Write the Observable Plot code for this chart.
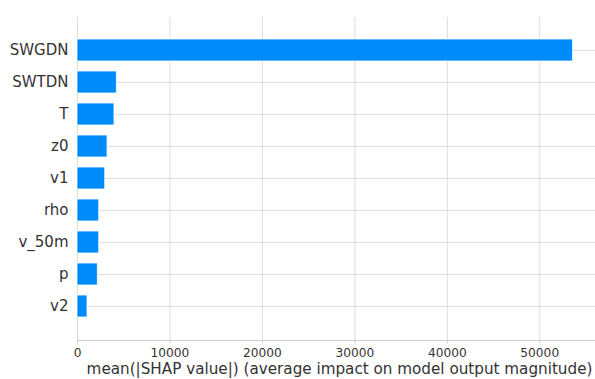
<!DOCTYPE html>
<html><head><meta charset="utf-8">
<script src="https://cdn.jsdelivr.net/npm/d3@7"></script>
<script src="https://cdn.jsdelivr.net/npm/@observablehq/plot@0.6"></script>
<style>body{margin:0;background:#fff} svg{display:block}</style>
</head><body><div id="chart"></div>
<script>
const features = ["SWGDN","SWTDN","T","z0","v1","rho","v_50m","p","v2"];
const meanAbsShap = [53600,4260,4000,3250,3000,2350,2350,2200,1080];
const xTicks = [0,10000,20000,30000,40000,50000];
const xLabel = "mean(|SHAP value|) (average impact on model output magnitude)";
const data = features.map((f,i)=>({feature:f, value:meanAbsShap[i]}));
const textColor = "#333333";
const gridColor = "#dcdcdc";
const chart = Plot.plot({
  width:595, height:379, marginTop:17, marginBottom:39, marginLeft:77, marginRight:0,
  style:{fontFamily:"DejaVu Sans", background:"#fff", color:textColor},
  x:{domain:[0,56030]},
  y:{domain:features, paddingInner:0.3, paddingOuter:0.65},
  marks:[
    Plot.gridX(xTicks, {stroke:gridColor, strokeOpacity:1, strokeWidth:1}),
    Plot.ruleY(features, {stroke:gridColor, strokeWidth:1}),
    Plot.frame({anchor:"bottom", stroke:"#cccccc", strokeWidth:1}),
    Plot.barX(data, {y:"feature", x:"value", fill:"#008bfb", stroke:"#ffffff", strokeOpacity:0.8, strokeWidth:1}),
    Plot.axisX(xTicks, {tickSize:3.5, tickPadding:4, fontSize:12.2, stroke:"#cccccc", fill:textColor, label:null, tickFormat:d=>String(d)}),
    Plot.axisY({tickSize:0, tickPadding:9, fontSize:15, fill:textColor, label:null}),
    Plot.text([xLabel], {frameAnchor:"bottom", dy:33.5, dx:3, fontSize:15.2, fill:textColor, text:d=>d})
  ]
});
document.getElementById("chart").append(chart);
</script>
</body></html>
